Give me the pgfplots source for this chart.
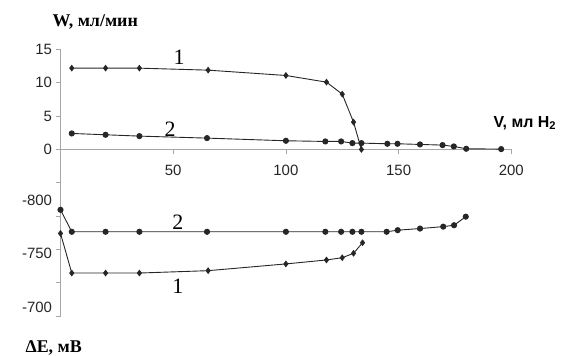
\documentclass[border=0pt]{standalone}
\usepackage{fontspec}
\setmainfont{Liberation Serif}
\setsansfont{Liberation Sans}
\usepackage{pgfplots}
\pgfplotsset{compat=1.18}
\begin{document}
\begin{tikzpicture}
\useasboundingbox (0,0) rectangle (564bp,356bp);
\begin{axis}[
  at={(60.5bp,40bp)}, anchor=south west,
  scale only axis, width=450.8bp, height=266.5bp,
  xmin=0, xmax=200, ymin=-25, ymax=15,
  axis x line*=middle, axis y line*=left,
  axis line style={draw=gray!70, line width=0.8bp},
  xtick={50,100,150,200}, xticklabels={50,100,150,200},
  ytick={-25,-20,...,15}, yticklabels={,,,,,0,5,10,15},
  tick style={draw=gray!70, line width=0.8bp},
  tick align=outside, major tick length=5bp,
  ticklabel style={font=\sffamily\fontsize{15}{15}\selectfont, text=black!85},
  xticklabel style={yshift=-7bp},
  hide obscured x ticks=false, hide obscured y ticks=false,
  clip=false,
]
\addplot[black!85, line width=0.9bp, mark=diamond*, mark size=2.7bp] coordinates {
(5,12.2) (20,12.2) (35,12.2) (65.5,11.9) (100,11.1) (118,10.1) (125,8.3) (130,4.1) (133.5,0)};
\addplot[black!85, line width=0.9bp, mark=*, mark size=2.6bp] coordinates {
(5,2.4) (20,2.2) (35,2.0) (65,1.7) (100,1.3) (117.5,1.2) (124.5,1.2) (129.5,0.95) (133.5,0.95) (145,0.85) (149.5,0.85) (159.5,0.75) (169.5,0.65) (174.5,0.45) (180,0.1) (195.5,0.05)};
\node[font=\fontsize{22}{22}\selectfont] at (axis cs:52.6,13.9) {1};
\node[font=\fontsize{22}{22}\selectfont] at (axis cs:48.6,3.1) {2};
\node[font=\fontsize{22}{22}\selectfont] at (axis cs:52.1,-10.9) {2};
\node[font=\fontsize{22}{22}\selectfont] at (axis cs:52.1,-20.5) {1};
\end{axis}
\begin{axis}[
  at={(60.5bp,40bp)}, anchor=south west,
  scale only axis, width=450.8bp, height=266.5bp,
  xmin=0, xmax=200, ymin=-940.6, ymax=-691.9, y dir=reverse,
  axis x line=none, axis y line*=left,
  axis line style={draw=none},
  xtick=\empty,
  ytick={-800,-750,-700}, yticklabels={-800,-750,-700},
  tick style={draw=none},
  tick align=outside, major tick length=5bp,
  ticklabel style={font=\sffamily\fontsize{15}{15}\selectfont, text=black!85},
  clip=false,
]
\addplot[black!85, line width=0.9bp, mark=*, mark size=2.6bp] coordinates {
(0,-791) (5,-770.5) (20,-770.5) (35,-770.5) (65,-770.5) (100,-770.5) (117.5,-770.5) (124.5,-770.5) (129.5,-770.5) (133.5,-770.5) (144.7,-770.5) (149.6,-772) (159.5,-773.5) (169.8,-775.3) (174.6,-776.6) (179.8,-784.6)};
\addplot[black!85, line width=0.9bp, mark=diamond*, mark size=2.7bp] coordinates {
(0,-769) (5,-732) (20,-732) (35,-732) (65.5,-734.2) (100,-740.5) (118,-744.2) (125,-746.3) (130,-750.4) (134,-760.3)};
\end{axis}
\node[anchor=west, font=\bfseries\fontsize{18}{18}\selectfont] at (49bp,334bp) {W, мл/мин};
\node[anchor=west, font=\sffamily\bfseries\fontsize{16}{16}\selectfont] at (490bp,233bp) {V, мл H\textsubscript{2}};
\node[anchor=west, font=\bfseries\fontsize{18}{18}\selectfont] at (22bp,8bp) {ΔE, мВ};
\end{tikzpicture}
\end{document}
